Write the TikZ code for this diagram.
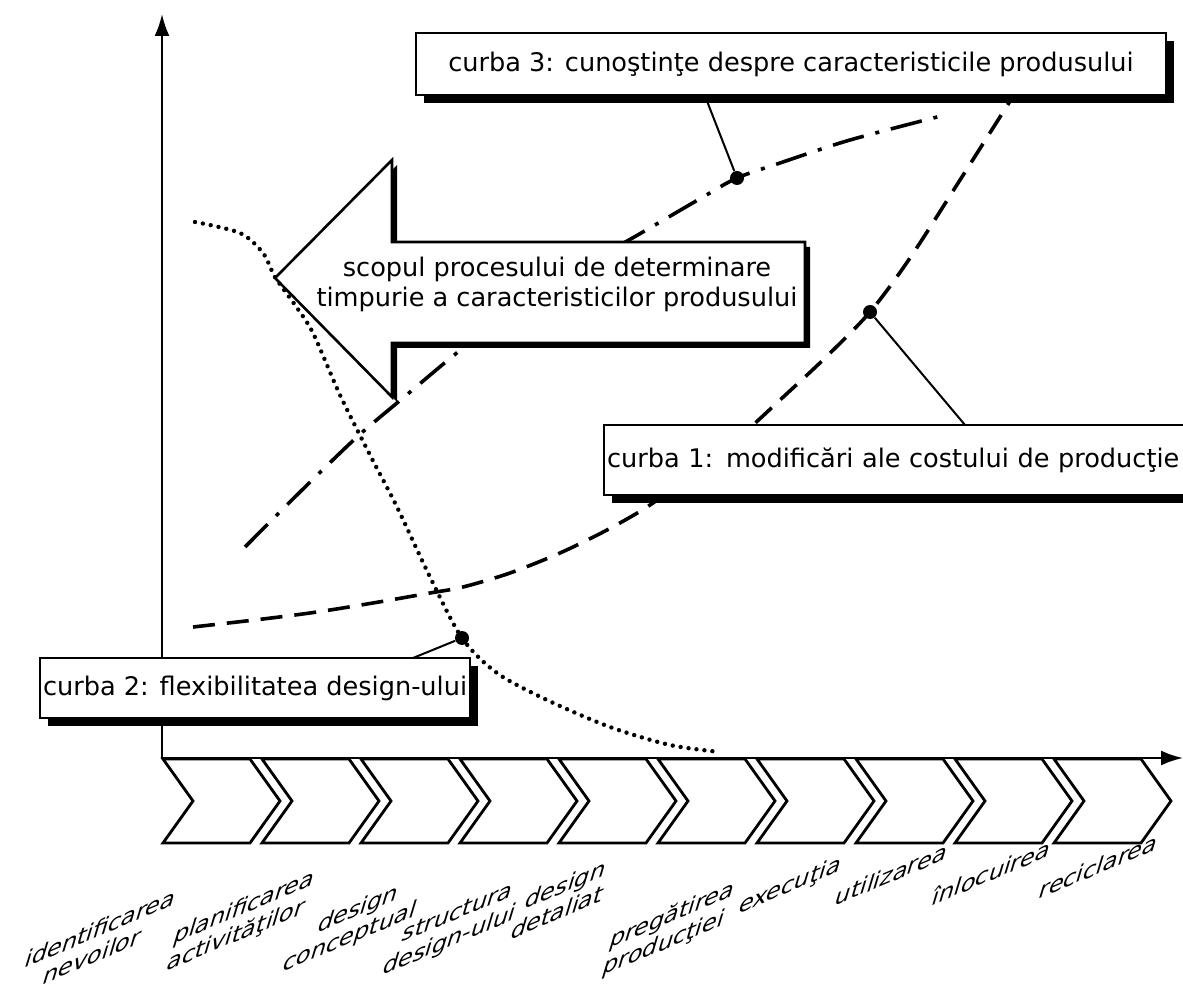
\documentclass[tikz,border=0pt]{standalone}
\usepackage{fontspec}
\setmainfont{DejaVu Sans}
\usepackage{tikz}
\usetikzlibrary{arrows.meta,shadows}

\tikzset{
  curvebox/.style={draw=black, line width=1pt, fill=white, inner xsep=1.5pt, inner ysep=0pt,
    font=\fontsize{12.8}{15}\selectfont,
    drop shadow={shadow xshift=4pt, shadow yshift=-4pt, fill=black, opacity=1}},
  phase/.style={cm={1,0.42,0.3,1,(0,0)}, align=center, inner sep=0pt, font=\fontsize{12}{14}\selectfont},
  chevron/.style={line width=1.4pt, line join=miter},
  curvedot/.style={circle, fill=black, inner sep=0pt, minimum size=7pt},
  leader/.style={line width=1pt},
  costcurve/.style={line width=1.8pt, dash pattern=on 11pt off 6pt},
  flexcurve/.style={line width=2.2pt, line cap=round, dash pattern=on 0pt off 4pt},
  knowcurve/.style={line width=1.8pt, dash pattern=on 16pt off 6pt on 2pt off 6pt},
}

\begin{document}
\begin{tikzpicture}[x=0.5pt,y=-0.5pt]
\useasboundingbox (0,0) rectangle (1183,999);

% axes
\coordinate (o) at (162,758);
\coordinate (ytop) at (162,14);
\coordinate (xend) at (1183,758);
\draw[line width=1.2pt,-{Latex[length=11pt,width=7.5pt]}] (o) -- (ytop);
\draw[line width=1.2pt,-{Latex[length=11pt,width=7.5pt]}] (o) -- (xend);

% phases
\foreach \k in {0,...,9} {
\draw[chevron] ({163+99*\k},759) -- ({250+99*\k},759) -- ({280+99*\k},801)
  -- ({250+99*\k},843) -- ({163+99*\k},843) -- ({193+99*\k},801) -- cycle;
}

\foreach \lx/\ly/\txt [count=\i] in {
  97/942/{identificarea\\nevoilor},
  240/922/{planificarea\\activităţilor},
  354/924/{design\\conceptual},
  453/928/{structura\\design-ului},
  562/898/{design\\detaliat},
  668/930/{pregătirea\\producţiei},
  790/886/{execuţia},
  892/874/{utilizarea},
  992/872/{înlocuirea},
  1099/866/{reciclarea}} {
\node[phase] (ph\i) at (\lx,\ly) {\txt};
}

% curba 3
\draw[knowcurve] plot[smooth] coordinates {(245,547) (300,492) (357,437) (403,398) (463,348)
  (540,290) (629,240) (703,197) (737,178) (780,163) (850,140) (945,115)};

% scopul
\draw[line width=1.3pt, fill=white,
  drop shadow={shadow xshift=2.5pt, shadow yshift=-2.5pt, fill=black, opacity=1}]
  (275,278) -- (392,160) -- (392,242) -- (805,242) -- (805,343) -- (392,343) -- (392,397) -- cycle;
\node[align=center, font=\fontsize{12.8}{15}\selectfont] (scop) at (557,284)
  {scopul procesului de determinare\\timpurie a caracteristicilor produsului};

% curba 1
\draw[costcurve] plot[smooth] coordinates {(193,627) (263,619) (317,612) (373,603) (430,593)
  (463,587) (510,573) (560,553) (607,530) (650,505) (700,468) (745,432) (780,400) (825,358)
  (870,312) (910,258) (960,180) (1012,98)};

% curba 2
\draw[flexcurve] plot[smooth] coordinates {(195,222) (240,233) (263,253) (275,277) (295,305)
  (313,333) (340,395) (370,455) (397,507) (430,577) (462,638) (497,673) (547,700) (610,727)
  (670,745) (720,752)};

% boxes
\node[curvebox, anchor=west, minimum width=375pt, minimum height=31pt] (c3) at (415,64)
  {curba 3: cunoştinţe despre caracteristicile produsului};
\node[curvebox, anchor=west, minimum height=35pt, text width=292pt, align=left] (c1) at (603,460)
  {curba 1: modificări ale costului de producţie};
\node[curvebox, anchor=west, minimum height=30pt] (c2) at (39,688)
  {curba 2: flexibilitatea design-ului};

% leaders
\node[curvedot] (p3) at (737,178) {};
\node[curvedot] (p1) at (870,312) {};
\node[curvedot] (p2) at (462,638) {};
\coordinate (l3) at (705,96);
\coordinate (l1) at (965,425);
\coordinate (l2) at (413,658);
\draw[leader] (l3) -- (p3);
\draw[leader] (p1) -- (l1);
\draw[leader] (p2) -- (l2);

\end{tikzpicture}
\end{document}
